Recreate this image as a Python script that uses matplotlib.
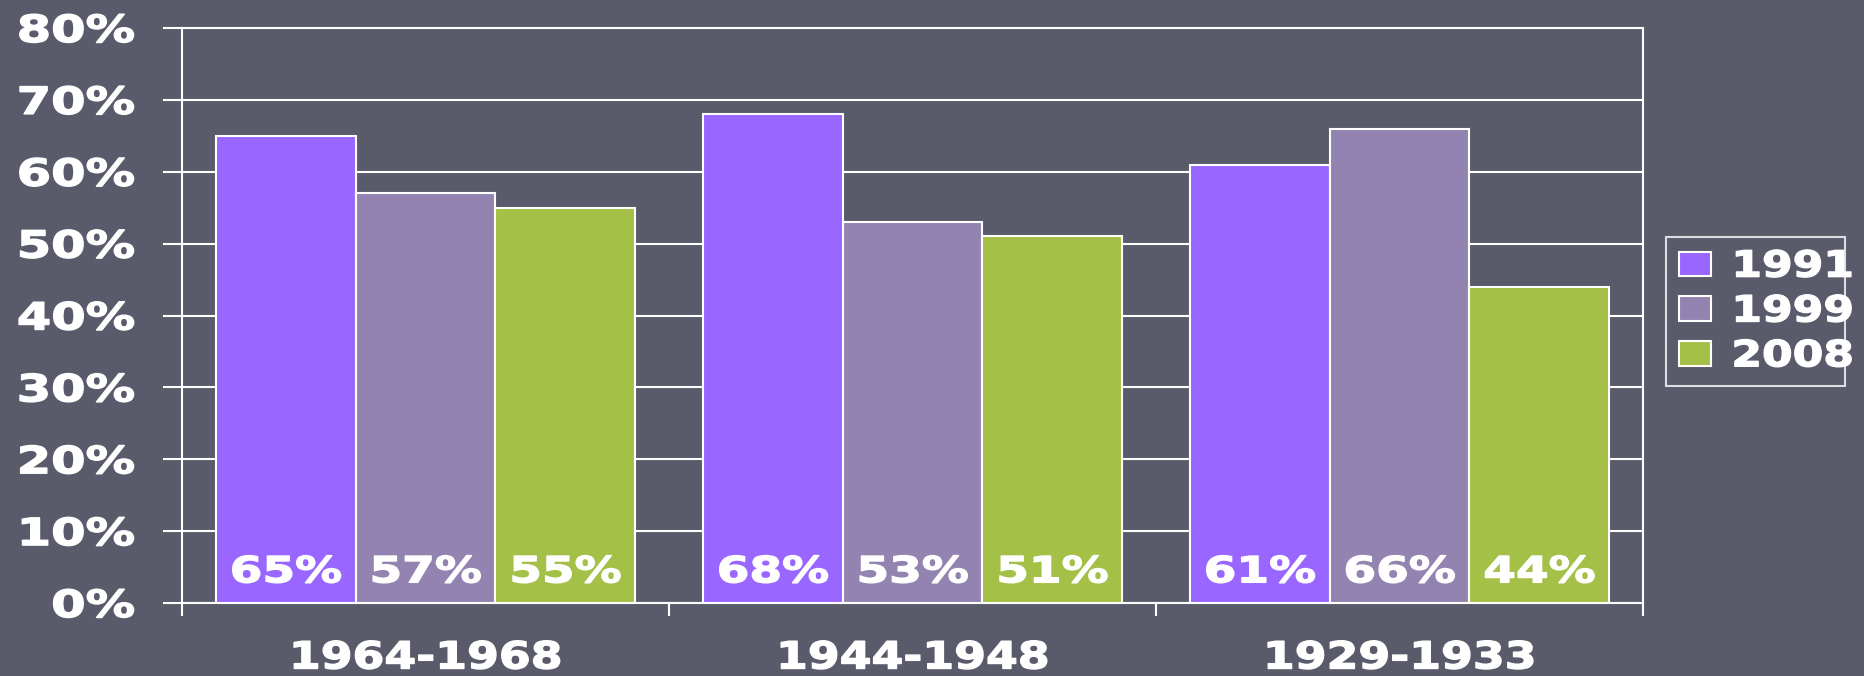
import matplotlib
matplotlib.use("Agg")
import matplotlib.pyplot as plt
from matplotlib.ticker import PercentFormatter
from matplotlib.patheffects import AbstractPathEffect
from matplotlib.transforms import Affine2D
import numpy as np

plt.rcParams['font.family'] = ['DejaVu Sans']

# data
periods = ["1964-1968", "1944-1948", "1929-1933"]
years = ["1991", "1999", "2008"]
v1991 = [65, 68, 61]
v1999 = [57, 53, 66]
v2008 = [55, 51, 44]

bg = "#595B6B"
colors = ["#9966FF", "#9383B1", "#A4C047"]


# the original uses a wide, heavy font (Verdana Bold): widen and thicken DejaVu
class Wide(AbstractPathEffect):
    def __init__(self, anchor="center", sx=1.22, lw=1.0):
        super().__init__()
        self.anchor, self.sx, self.lw = anchor, sx, lw

    def draw_path(self, renderer, gc, tpath, affine, rgbFace=None):
        xs = tpath.vertices[:, 0]
        if self.anchor == "right":
            cx = xs.max()
        elif self.anchor == "left":
            cx = xs.min()
        else:
            cx = (xs.min() + xs.max()) / 2
        t = Affine2D().translate(-cx, 0).scale(self.sx, 1).translate(cx, 0) + affine
        gc0 = renderer.new_gc()
        gc0.copy_properties(gc)
        if rgbFace is not None:
            gc0.set_foreground(rgbFace)
        gc0.set_linewidth(self.lw)
        gc0.set_joinstyle("round")
        renderer.draw_path(gc0, tpath, t, rgbFace)
        gc0.restore()


fig = plt.figure(figsize=(18.64, 6.76), dpi=100, facecolor=bg)
ax = fig.add_axes([182 / 1864, 1 - 603 / 676, (1643 - 182) / 1864, (603 - 28) / 676])
ax.set_facecolor(bg)

x = np.arange(len(periods))
w = 0.287
for i, (vals, yr) in enumerate(zip([v1991, v1999, v2008], years)):
    pos = x + (i - 1) * w
    ax.bar(pos, vals, width=w, color=colors[i], edgecolor="white", linewidth=1.5,
           label=yr, zorder=3)
    for px, v in zip(pos, vals):
        ax.text(px, 1.9, f"{v}%", ha="center", va="bottom", color="white",
                fontsize=26, fontweight="bold", zorder=4,
                path_effects=[Wide("center", sx=1.3)])

ax.set_xlim(-0.5, 2.5)
ax.set_ylim(0, 80)
ax.set_yticks(range(0, 81, 10))
ax.yaxis.set_major_formatter(PercentFormatter(decimals=0))
ax.grid(axis="y", color="white", linewidth=1.5, zorder=1)

ax.set_xticks(x)
ax.set_xticklabels(periods)
ax.set_xticks([-0.5, 0.5, 1.5, 2.5], minor=True)
ax.tick_params(axis="x", which="major", length=0, pad=27, labelsize=27, labelcolor="white")
ax.tick_params(axis="x", which="minor", length=9, width=1.5, color="white")
ax.tick_params(axis="y", length=14, width=1.5, color="white", pad=20,
               labelsize=27, labelcolor="white")
for lab in ax.get_xticklabels():
    lab.set_fontweight("bold")
    lab.set_path_effects([Wide("center")])
for lab in ax.get_yticklabels():
    lab.set_fontweight("bold")
    lab.set_path_effects([Wide("right", sx=1.32)])
for sp in ax.spines.values():
    sp.set_color("white")
    sp.set_linewidth(1.5)

leg = fig.legend(loc="upper left", bbox_to_anchor=(1666 / 1864, 1 - 237 / 676),
                 borderaxespad=0, frameon=True, fancybox=False, facecolor="none",
                 edgecolor="white", labelcolor="white",
                 prop={"size": 26, "weight": "bold"},
                 handlelength=0.9, handleheight=0.68, handletextpad=0.56,
                 labelspacing=0.3, borderpad=0.35)
leg.get_frame().set_linewidth(1.5)
for t in leg.get_texts():
    t.set_path_effects([Wide("left")])

fig.savefig("out.png", dpi=100, facecolor=bg)
